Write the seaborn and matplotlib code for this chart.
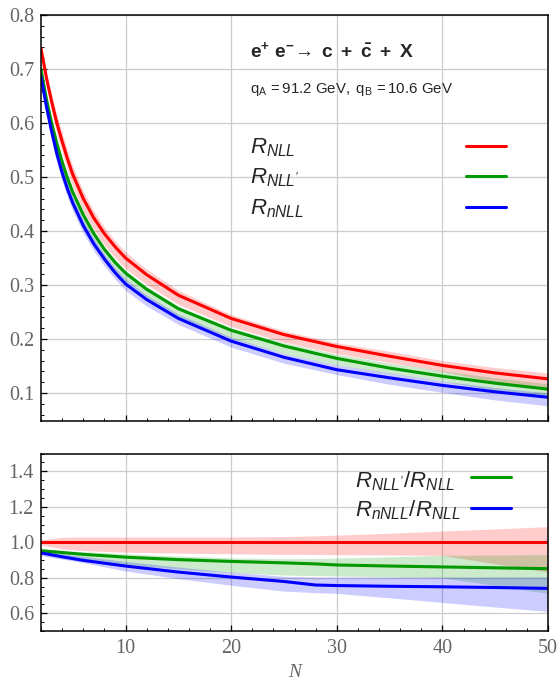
import matplotlib
matplotlib.use("Agg")
import matplotlib.pyplot as plt
import numpy as np
import pandas as pd
import seaborn as sns
from matplotlib.ticker import MultipleLocator, FormatStrFormatter

# ==== Data ==== #
# upper panel: R(N) with scale bands
n_top = [2, 2.5, 3, 3.5, 4, 4.5, 5, 6, 7, 8, 9, 10, 12, 15, 20, 25, 30, 35, 40, 45, 50]

r_nll = [0.738, 0.685, 0.640, 0.600, 0.566, 0.534, 0.505, 0.460, 0.424, 0.395, 0.371,
         0.350, 0.319, 0.281, 0.238, 0.208, 0.186, 0.168, 0.151, 0.137, 0.126]
r_nll_hi = [0.748, 0.697, 0.654, 0.616, 0.582, 0.550, 0.520, 0.474, 0.437, 0.407, 0.382,
            0.361, 0.329, 0.290, 0.245, 0.215, 0.193, 0.177, 0.160, 0.147, 0.137]
r_nll_lo = [0.727, 0.670, 0.622, 0.580, 0.545, 0.513, 0.483, 0.438, 0.403, 0.374, 0.351,
            0.330, 0.301, 0.264, 0.223, 0.194, 0.173, 0.156, 0.140, 0.120, 0.105]

r_nllp = [0.699, 0.645, 0.600, 0.562, 0.528, 0.498, 0.472, 0.430, 0.395, 0.366, 0.342,
          0.322, 0.292, 0.256, 0.216, 0.187, 0.164, 0.146, 0.131, 0.118, 0.107]
r_nllp_hi = [0.712, 0.657, 0.611, 0.572, 0.537, 0.507, 0.480, 0.437, 0.402, 0.372, 0.348,
             0.327, 0.297, 0.261, 0.221, 0.193, 0.172, 0.155, 0.141, 0.128, 0.117]
r_nllp_lo = [0.692, 0.635, 0.589, 0.549, 0.514, 0.484, 0.457, 0.415, 0.380, 0.351, 0.327,
             0.308, 0.278, 0.241, 0.201, 0.173, 0.152, 0.136, 0.122, 0.104, 0.090]

r_nnll = [0.686, 0.632, 0.585, 0.543, 0.508, 0.478, 0.452, 0.410, 0.376, 0.348, 0.323,
          0.302, 0.273, 0.238, 0.196, 0.166, 0.143, 0.128, 0.114, 0.102, 0.092]
r_nnll_hi = [0.694, 0.641, 0.594, 0.553, 0.518, 0.488, 0.462, 0.420, 0.386, 0.357, 0.332,
             0.311, 0.281, 0.246, 0.203, 0.173, 0.152, 0.137, 0.122, 0.110, 0.100]
r_nnll_lo = [0.668, 0.614, 0.568, 0.527, 0.492, 0.463, 0.437, 0.396, 0.363, 0.335, 0.311,
             0.290, 0.261, 0.227, 0.185, 0.155, 0.134, 0.116, 0.101, 0.087, 0.076]

# lower panel: ratios to the NLL central value
n_rat = [2, 4, 6, 10, 15, 20, 25, 28, 30, 35, 40, 45, 50]

rat_nll = [1.0] * len(n_rat)
rat_nll_hi = [1.013, 1.028, 1.030, 1.030, 1.030, 1.030, 1.032, 1.036, 1.040, 1.051, 1.063, 1.075, 1.088]
rat_nll_lo = [0.985, 0.963, 0.953, 0.944, 0.939, 0.935, 0.932, 0.931, 0.930, 0.928, 0.926, 0.879, 0.832]

rat_nllp = [0.952, 0.942, 0.932, 0.916, 0.902, 0.892, 0.884, 0.878, 0.872, 0.866, 0.861, 0.856, 0.851]
rat_nllp_hi = [0.965, 0.955, 0.947, 0.935, 0.922, 0.912, 0.907, 0.908, 0.911, 0.918, 0.926, 0.928, 0.930]
rat_nllp_lo = [0.943, 0.915, 0.900, 0.875, 0.850, 0.830, 0.815, 0.812, 0.810, 0.805, 0.800, 0.756, 0.712]

rat_nnll = [0.940, 0.918, 0.898, 0.866, 0.832, 0.804, 0.779, 0.759, 0.756, 0.752, 0.749, 0.745, 0.740]
rat_nnll_hi = [0.948, 0.935, 0.920, 0.892, 0.860, 0.832, 0.808, 0.804, 0.804, 0.804, 0.804, 0.804, 0.804]
rat_nnll_lo = [0.925, 0.905, 0.885, 0.838, 0.795, 0.758, 0.725, 0.716, 0.712, 0.687, 0.661, 0.635, 0.610]

orders = ["NLL", "NLL'", "nNLL"]
colors = {"NLL": "#ff0000", "NLL'": "#009900", "nNLL": "#0000ff"}

top_lbl = [r"$R_{NLL}$", r"$R_{NLL'}$", r"$R_{nNLL}$"]
rat_lbl = [r"$R_{NLL'}/R_{NLL}$", r"$R_{nNLL}/R_{NLL}$"]

# ==== Style ==== #
sns.set_style("ticks")
plt.rcParams["font.family"] = ["Liberation Serif", "DejaVu Serif"]
plt.rcParams["mathtext.fontset"] = "custom"
plt.rcParams["mathtext.rm"] = "Liberation Sans"
plt.rcParams["mathtext.it"] = "Liberation Sans:italic"
plt.rcParams["mathtext.bf"] = "Liberation Sans:bold"

tick_col = "#666666"
grid_col = "#cccccc"

fig = plt.figure(figsize=(5.58, 6.86), dpi=100)
ax1 = fig.add_axes([41 / 558, 265 / 686, 507 / 558, 406 / 686])
ax2 = fig.add_axes([41 / 558, 55 / 686, 507 / 558, 177.5 / 686])

# long tables for seaborn
df_top = pd.DataFrame({
    "N": n_top * 3,
    "R": r_nll + r_nllp + r_nnll,
    "order": [o for o in orders for _ in n_top],
})
df_rat = pd.DataFrame({
    "N": n_rat * 3,
    "R": rat_nll + rat_nllp + rat_nnll,
    "order": [o for o in orders for _ in n_rat],
})

# bands
for lo, hi, o in zip([r_nll_lo, r_nllp_lo, r_nnll_lo], [r_nll_hi, r_nllp_hi, r_nnll_hi], orders):
    ax1.fill_between(n_top, lo, hi, color=colors[o], alpha=0.2, lw=0)
for lo, hi, o in zip([rat_nll_lo, rat_nllp_lo, rat_nnll_lo], [rat_nll_hi, rat_nllp_hi, rat_nnll_hi], orders):
    ax2.fill_between(n_rat, lo, hi, color=colors[o], alpha=0.2, lw=0)

sns.lineplot(data=df_top, x="N", y="R", hue="order", palette=colors, hue_order=orders,
             estimator=None, sort=False, lw=2.2, legend=False, ax=ax1)
sns.lineplot(data=df_rat, x="N", y="R", hue="order", palette=colors, hue_order=orders,
             estimator=None, sort=False, lw=2.2, legend=False, ax=ax2)

# axes cosmetics
for ax in (ax1, ax2):
    ax.set_xlim(2, 50)
    ax.xaxis.set_major_locator(MultipleLocator(10))
    ax.xaxis.set_minor_locator(MultipleLocator(2))
    ax.yaxis.set_major_formatter(FormatStrFormatter("%.1f"))
    ax.grid(True, which="major", color=grid_col, lw=0.9)
    ax.set_axisbelow(True)
    ax.tick_params(which="both", direction="in", top=False, right=False,
                   labelcolor=tick_col, labelsize=14.5, color="black")
    ax.tick_params(which="major", length=4, width=0.9, pad=5)
    ax.tick_params(which="minor", length=2.2, width=0.7)
    for s in ax.spines.values():
        s.set_color("black")
        s.set_linewidth(1.1)
    ax.set_ylabel("")

ax1.set_ylim(0.048, 0.8)
ax1.yaxis.set_major_locator(MultipleLocator(0.1))
ax1.yaxis.set_minor_locator(MultipleLocator(0.02))
ax1.tick_params(labelbottom=False)
ax1.set_xlabel("")

ax2.set_ylim(0.5, 1.5)
ax2.yaxis.set_major_locator(MultipleLocator(0.2))
ax2.yaxis.set_minor_locator(MultipleLocator(0.05))
ax2.tick_params(axis="x", which="major", pad=6)
ax2.set_xlabel("N", fontsize=14, color=tick_col, style="italic", labelpad=4)

# title and process text
ax1.text(0.412, 0.895, r"$\mathbf{e^{+}\ e^{-}\!\rightarrow\ c\ +\ \bar{c}\ +\ X}$",
         transform=ax1.transAxes, fontsize=13.8, va="baseline", ha="left")
ax1.text(0.412, 0.807, r"$\mathrm{q_{A}\,{=}91.2\ GeV,\ q_{B}\,{=}10.6\ GeV}$",
         transform=ax1.transAxes, fontsize=10.8, va="baseline", ha="left")

# legends, text left and line sample on the right
for lbl, o, yt, yl in zip(top_lbl, orders, [0.659, 0.584, 0.509], [0.678, 0.603, 0.527]):
    ax1.text(0.412, yt, lbl, transform=ax1.transAxes, fontsize=16, va="baseline")
    ax1.plot([0.838, 0.917], [yl, yl], transform=ax1.transAxes, color=colors[o], lw=2.2)

for lbl, o, yt, yl in zip(rat_lbl, orders[1:], [0.811, 0.644], [0.866, 0.695]):
    ax2.text(0.619, yt, lbl, transform=ax2.transAxes, fontsize=16, va="baseline")
    ax2.plot([0.848, 0.927], [yl, yl], transform=ax2.transAxes, color=colors[o], lw=2.2)

plt.savefig("out.png", dpi=100)
plt.close()
